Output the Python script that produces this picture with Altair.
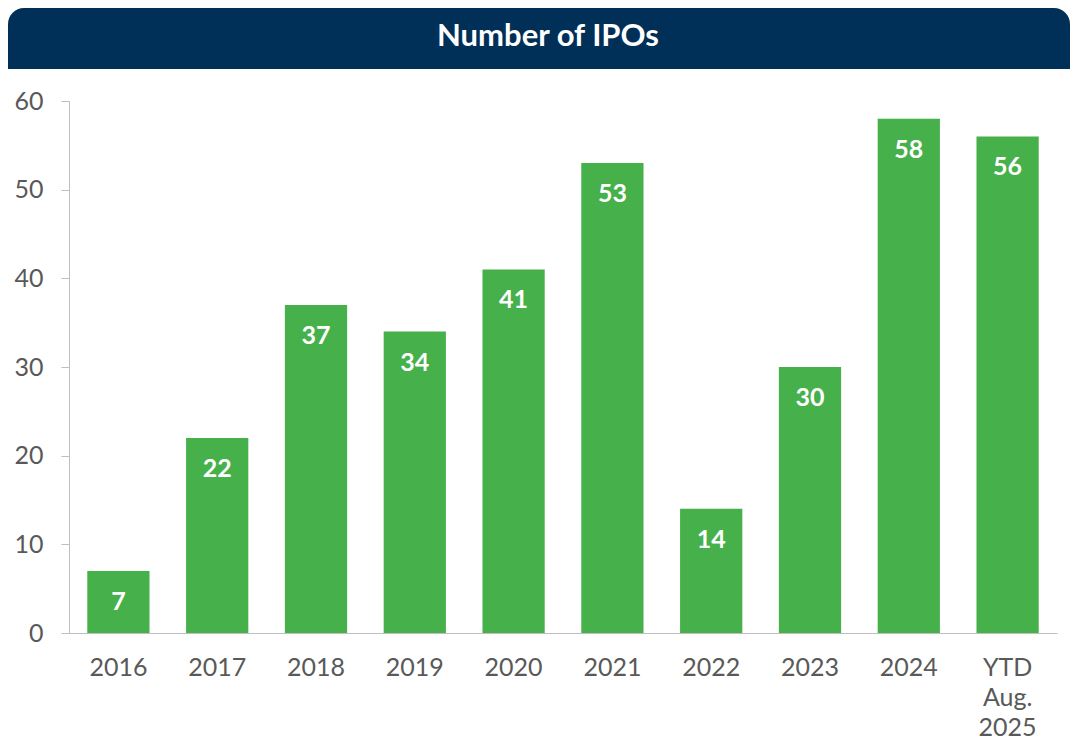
import altair as alt
import pandas as pd

categories = ["2016", "2017", "2018", "2019", "2020", "2021", "2022", "2023", "2024", "YTD\nAug.\n2025"]
values = [7, 22, 37, 34, 41, 53, 14, 30, 58, 56]
title_text = "Number of IPOs"

df = pd.DataFrame({"cat": categories, "val": values})

FONT = "Lato"
GREEN = "#46B04B"
NAVY = "#003057"
AXIS = "#BFBFBF"
LABEL = "#595959"

x_enc = alt.X("cat:N", sort=categories,
              scale=alt.Scale(paddingInner=0.37, paddingOuter=0.185),
              axis=alt.Axis(title=None, labelAngle=0, ticks=False, domainColor=AXIS,
                            labelPadding=22, labelFontSize=25, labelColor=LABEL,
                            labelFont=FONT, labelLineHeight=30,
                            labelExpr="split(datum.label, '\\n')"))
y_enc = alt.Y("val:Q", scale=alt.Scale(domain=[0, 60], nice=False),
              axis=alt.Axis(title=None, values=[0, 10, 20, 30, 40, 50, 60], grid=False,
                            domainColor=AXIS, tickColor=AXIS, tickSize=8,
                            labelPadding=18, labelFontSize=25, labelColor=LABEL,
                            labelFont=FONT))

bars = alt.Chart(df).mark_bar(color=GREEN).encode(x=x_enc, y=y_enc)
labels = alt.Chart(df).mark_text(color="white", font=FONT, fontWeight="bold", fontSize=25,
                                 baseline="middle", dy=31).encode(
    x=alt.X("cat:N", sort=categories), y="val:Q", text="val:Q")

tdf = pd.DataFrame({"t": [title_text]})
header = alt.Chart(tdf).mark_rect(color=NAVY, cornerRadiusTopLeft=16, cornerRadiusTopRight=16).encode(
    x=alt.value(-61), x2=alt.value(1001), y=alt.value(-93), y2=alt.value(-32))
title = alt.Chart(tdf).mark_text(color="white", font=FONT, fontWeight="bold", fontSize=31,
                                 baseline="middle", align="center").encode(
    text="t:N", x=alt.value(479), y=alt.value(-64))

chart = alt.layer(bars, labels, header, title).properties(
    width=988, height=532,
    autosize=alt.AutoSizeParams(type="none"),
    padding={"left": 61, "top": 93, "right": 13, "bottom": 110},
).configure_view(stroke=None)

chart.save("out.html", embed_options={"renderer": "svg", "actions": False})
